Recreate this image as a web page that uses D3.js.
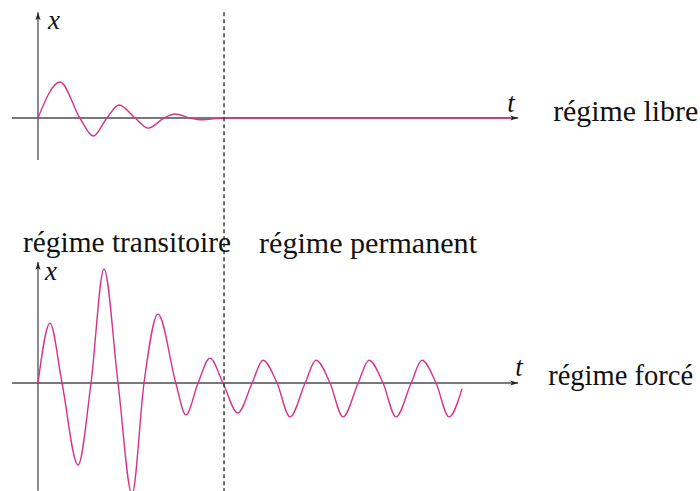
<!DOCTYPE html>
<html>
<head>
<meta charset="utf-8">
<script src="https://cdn.jsdelivr.net/npm/d3@7"></script>
<style>
  html, body { margin: 0; padding: 0; background: #fff; }
</style>
</head>
<body>
<script>
// Free regime: damped oscillation that dies out, then rest (t in forcing periods, x arbitrary)
const freeT = [0, 0.415, 0.79, 1.04, 1.30, 1.53, 1.83, 2.08, 2.38, 2.58, 2.87, 3.09, 3.51, 8.9];
const freeX = [0, 1.0, 0, -0.5, 0, 0.36, 0, -0.28, 0, 0.11, 0, -0.05, 0, 0];

// Forced regime: transient beating, then steady oscillation at the forcing period
const forcedT = [0, 0.226, 0.453, 0.755, 1.0, 1.245, 1.51, 1.774, 2.0, 2.264, 2.60, 2.79, 3.02, 3.245,
  3.49, 3.77, 4.04, 4.245, 4.51, 4.755, 5.04, 5.245, 5.51, 5.755, 6.04, 6.245, 6.51, 6.755,
  7.04, 7.245, 7.51, 7.755, 8.0];
const forcedX = [0, 2.14, 0, -2.93, 0, 4.07, 0, -3.97, 0, 2.46, 0, -1.14, 0, 0.89,
  0, -1.07, 0, 0.81, 0, -1.21, 0, 0.81, 0, -1.21, 0, 0.81, 0, -1.21,
  0, 0.81, 0, -1.21, -0.21];

// End of the transient part
const tTransition = 3.51;

// Axis extents (data units)
const tExtent = [-0.49, 9.06];
const xTopExtent = [-1.17, 2.94];
const xBottomExtent = [-3.85, 4.32];

// Text
const axisLabelX = "x";
const axisLabelT = "t";
const rowLabels = ["régime libre", "régime forcé"];
const phaseLabels = ["régime transitoire", "régime permanent"];

const W = 700, H = 491;
const curveColor = "#d6328c";
const axisColor = "#4d4d4d";

const svg = d3.select("body").append("svg")
  .attr("width", W).attr("height", H)
  .style("display", "block");

const defs = svg.append("defs");
defs.append("marker")
  .attr("id", "arrow")
  .attr("viewBox", "-9 -4 10 8")
  .attr("refX", 0).attr("refY", 0)
  .attr("markerWidth", 10).attr("markerHeight", 8)
  .attr("markerUnits", "userSpaceOnUse")
  .attr("orient", "auto")
  .append("path")
  .attr("d", "M0,0 L-8,-2.6 L-6,0 L-8,2.6 Z")
  .attr("fill", "#222");

const t = d3.scaleLinear().domain([0, 9]).range([38, 515]);
const yTop = d3.scaleLinear().domain([-1, 1]).range([154, 82]);
const yBottom = d3.scaleLinear().domain([-1, 1]).range([411, 355]);

function drawAxes(y, yExt) {
  const g = svg.append("g");
  g.append("line")
    .attr("x1", t(tExtent[0])).attr("x2", t(tExtent[1]))
    .attr("y1", y(0)).attr("y2", y(0))
    .attr("stroke", axisColor).attr("stroke-width", 1.3)
    .attr("marker-end", "url(#arrow)");
  g.append("line")
    .attr("x1", t(0)).attr("x2", t(0))
    .attr("y1", y(yExt[0])).attr("y2", y(yExt[1]))
    .attr("stroke", axisColor).attr("stroke-width", 1.3)
    .attr("marker-end", "url(#arrow)");
}

function drawCurve(y, ts, xs) {
  const pts = ts.map((d, i) => [d, xs[i]]);
  const line = d3.line()
    .x(d => t(d[0]))
    .y(d => y(d[1]))
    .curve(d3.curveMonotoneX);
  svg.append("path")
    .attr("d", line(pts))
    .attr("fill", "none")
    .attr("stroke", curveColor)
    .attr("stroke-width", 1.4);
}

drawAxes(yTop, xTopExtent);
drawAxes(yBottom, xBottomExtent);
drawCurve(yTop, freeT, freeX);
drawCurve(yBottom, forcedT, forcedX);

// Boundary between transient and permanent regimes
svg.append("line")
  .attr("x1", t(tTransition)).attr("x2", t(tTransition))
  .attr("y1", yTop(xTopExtent[1])).attr("y2", H)
  .attr("stroke", "#222").attr("stroke-width", 1.3)
  .attr("stroke-dasharray", "4,3");

// Axis names
function italic(x, y, s) {
  svg.append("text")
    .attr("x", x).attr("y", y)
    .attr("font-size", 27)
    .style("font-family", '"Liberation Serif"')
    .style("font-style", "italic")
    .attr("fill", "#111")
    .text(s);
}
italic(t(0) + 10, yTop(xTopExtent[1]) + 17, axisLabelX);
italic(t(tExtent[1]) - 11, yTop(0) - 6, axisLabelT);
italic(t(0) + 7, yBottom(xBottomExtent[1]) + 18, axisLabelX);
italic(t(tExtent[1]) - 3, yBottom(0) - 7, axisLabelT);

function label(x, y, s, w) {
  svg.append("text")
    .attr("x", x).attr("y", y)
    .attr("font-size", 29)
    .style("font-family", '"Liberation Serif"')
    .attr("fill", "#111")
    .attr("textLength", w).attr("lengthAdjust", "spacingAndGlyphs")
    .text(s);
}
label(t(tExtent[1]) + 35, yTop(0) + 3, rowLabels[0], 145);
label(t(tExtent[1]) + 30, yBottom(0) + 2, rowLabels[1], 145);
label(23, 252, phaseLabels[0], 208);
label(t(tTransition) + 35, 253, phaseLabels[1], 218);
</script>
</body>
</html>
